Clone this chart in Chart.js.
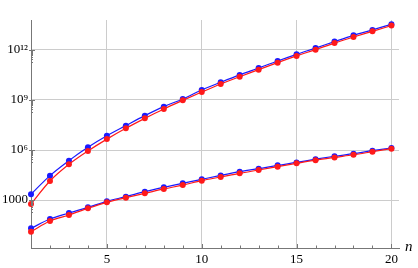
<!DOCTYPE html>
<html>
<head>
<meta charset="utf-8">
<script src="https://cdn.jsdelivr.net/npm/chart.js@4"></script>
<style>
  html, body { margin: 0; padding: 0; background: #fff; }
  #wrap { width: 418px; height: 268px; }
</style>
</head>
<body>
<div id="wrap"><canvas id="chart"></canvas></div>
<script>
// values
const nValues = [1, 2, 3, 4, 5, 6, 7, 8, 9, 10, 11, 12, 13, 14, 15, 16, 17, 18, 19, 20];
const upperBlue = [2.2e3, 2.9e4, 2.3e5, 1.45e6, 7.1e6, 2.9e7, 1.15e8, 4.0e8, 1.15e9, 4.0e9,
                   1.15e10, 3.2e10, 8.3e10, 2.2e11, 5.5e11, 1.3e12, 3.2e12, 7.6e12, 1.6e13, 3.5e13];
const upperRed = [5.8e2, 1.38e4, 1.38e5, 8.7e5, 4.5e6, 2.0e7, 7.9e7, 2.9e8, 9.5e8, 3.0e9,
                  9.1e9, 2.5e10, 6.6e10, 1.74e11, 4.4e11, 1.05e12, 2.6e12, 6.0e12, 1.32e13, 2.9e13];
const lowerBlue = [20, 72, 166, 363, 832, 1.58e3, 3.16e3, 5.75e3, 1.0e4, 1.74e4,
                   3.0e4, 5.0e4, 7.6e4, 1.2e5, 1.8e5, 2.8e5, 4.2e5, 6.0e5, 9.1e5, 1.32e6];
const lowerRed = [12.6, 55, 126, 316, 724, 1.38e3, 2.5e3, 4.6e3, 7.9e3, 1.45e4,
                  2.4e4, 4.0e4, 6.3e4, 1.0e5, 1.58e5, 2.45e5, 3.6e5, 5.2e5, 7.9e5, 1.2e6];
const xTicks = [5, 10, 15, 20];
const yTicks = [1e3, 1e6, 1e9, 1e12];
const yTickLabels = ['1000', '10⁶', '10⁹', '10¹²'];

const BLUE = '#1a1aff';
const RED = '#ff1a1a';
const AXIS = '#777777';
const GRID = '#cccccc';
const FONT = "'Liberation Serif', 'DejaVu Serif', serif";

function series(values, color, order) {
    return {
        data: values.map((v, i) => ({ x: nValues[i], y: v })),
        borderColor: color,
        backgroundColor: color,
        borderWidth: 1.2,
        pointRadius: 3,
        pointBorderWidth: 0,
        cubicInterpolationMode: 'monotone',
        clip: false,
        order: order
    };
}

// small tick marks along both axes plus the "n" axis label
const axisExtras = {
    id: 'axisExtras',
    afterDraw(chart) {
        const { ctx, chartArea, scales } = chart;
        ctx.save();
        ctx.strokeStyle = AXIS;
        ctx.lineWidth = 1;
        ctx.beginPath();
        nValues.forEach(n => {
            const px = Math.round(scales.x.getPixelForValue(n)) + 0.5;
            ctx.moveTo(px, chartArea.bottom);
            ctx.lineTo(px, chartArea.bottom - (xTicks.includes(n) ? 4 : 2.5));
        });
        yTicks.forEach(t => {
            for (let j = 2; j <= 9; j++) {
                const py = Math.round(scales.y.getPixelForValue(j * t / 10)) + 0.5;
                ctx.moveTo(chartArea.left, py);
                ctx.lineTo(chartArea.left + 2, py);
            }
            const py = Math.round(scales.y.getPixelForValue(t)) + 0.5;
            ctx.moveTo(chartArea.left - 2, py);
            ctx.lineTo(chartArea.left + 4, py);
        });
        ctx.stroke();

        ctx.fillStyle = '#000';
        ctx.font = "italic 15px " + FONT;
        ctx.textAlign = 'left';
        ctx.textBaseline = 'middle';
        ctx.fillText('n', chartArea.right + 6, chartArea.bottom - 1);
        ctx.restore();
    }
};

new Chart(document.getElementById('chart'), {
    type: 'line',
    data: {
        datasets: [
            series(upperBlue, BLUE, 1),
            series(upperRed, RED, 0),
            series(lowerBlue, BLUE, 1),
            series(lowerRed, RED, 0)
        ]
    },
    options: {
        responsive: true,
        maintainAspectRatio: false,
        animation: false,
        layout: { padding: { top: 20, right: 19, left: 0, bottom: 0 } },
        plugins: {
            legend: { display: false },
            tooltip: { enabled: false }
        },
        scales: {
            x: {
                type: 'linear',
                min: 1,
                max: 20.4,
                afterBuildTicks: scale => { scale.ticks = xTicks.map(v => ({ value: v })); },
                afterFit: scale => { scale.height = 20; },
                grid: { color: GRID, lineWidth: 1, drawTicks: false },
                border: { color: AXIS, width: 1 },
                ticks: {
                    color: '#000',
                    padding: 4,
                    maxRotation: 0,
                    font: { family: FONT, size: 13 }
                }
            },
            y: {
                type: 'logarithmic',
                min: 1.32,
                max: 6.3e13,
                afterBuildTicks: scale => { scale.ticks = yTicks.map(v => ({ value: v })); },
                afterFit: scale => { scale.width = 31; },
                grid: { color: GRID, lineWidth: 1, drawTicks: false },
                border: { color: AXIS, width: 1 },
                ticks: {
                    color: '#000',
                    padding: 3,
                    font: { family: FONT, size: 13 },
                    callback: value => {
                        const i = yTicks.indexOf(value);
                        return i >= 0 ? yTickLabels[i] : '';
                    }
                }
            }
        }
    },
    plugins: [axisExtras]
});
</script>
</body>
</html>
